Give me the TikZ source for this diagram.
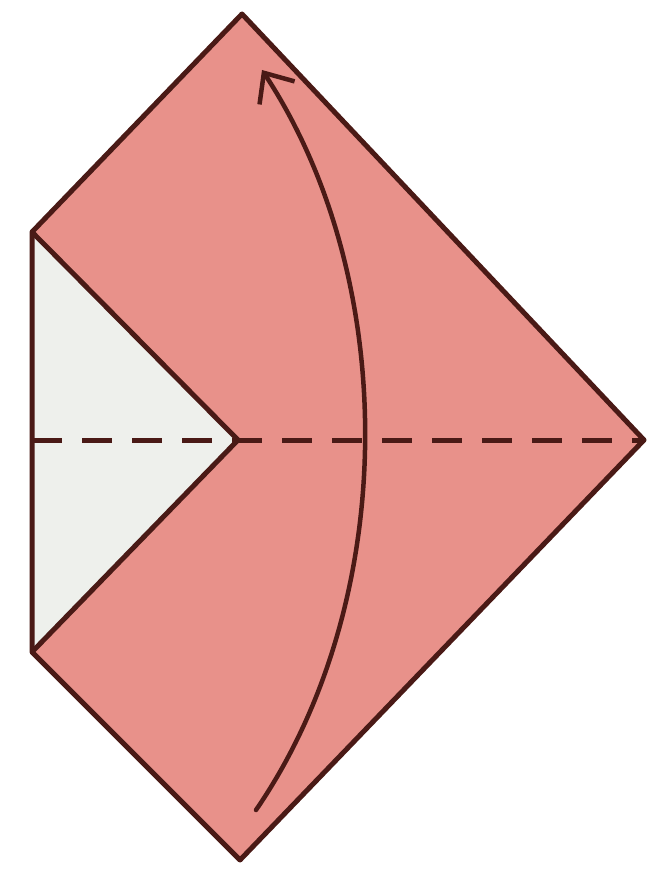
\documentclass[tikz,border=0pt]{standalone}
\usetikzlibrary{arrows.meta}
\definecolor{paper}{HTML}{E8918A}
\definecolor{inside}{HTML}{EEF0EC}
\definecolor{edge}{HTML}{4A1A16}
\tikzset{
  outline/.style={draw=edge, line width=5pt, line join=round},
  valley/.style={draw=edge, line width=5pt, dash pattern=on 30pt off 20pt},
  foldarrow/.style={draw=edge, line width=4.5pt, line cap=round, -{Straight Barb[length=24pt,width=42pt,line width=4.5pt]}}
}
\begin{document}
\begin{tikzpicture}[x=1pt,y=-1pt]
\useasboundingbox[fill=white] (0,0) rectangle (648,872);
\coordinate (T) at (242,14);
\coordinate (R) at (644,440);
\coordinate (B) at (240,860);
\coordinate (LT) at (32,232);
\coordinate (LB) at (32,652);
\coordinate (C) at (238,440);
\coordinate (LM) at (32,440);
\coordinate (A0) at (256,810);
\coordinate (A1) at (262,70);
\fill[paper] (T) -- (R) -- (B) -- (LB) -- (LT) -- cycle;
\fill[inside] (LT) -- (C) -- (LB) -- cycle;
\draw[outline] (T) -- (R) -- (B) -- (LB) -- (LT) -- cycle;
\draw[outline] (LT) -- (C) -- (LB);
\draw[valley] (LM) -- (R);
\draw[foldarrow] (A0) .. controls (400,600) and (400,280) .. (A1);
\end{tikzpicture}
\end{document}
